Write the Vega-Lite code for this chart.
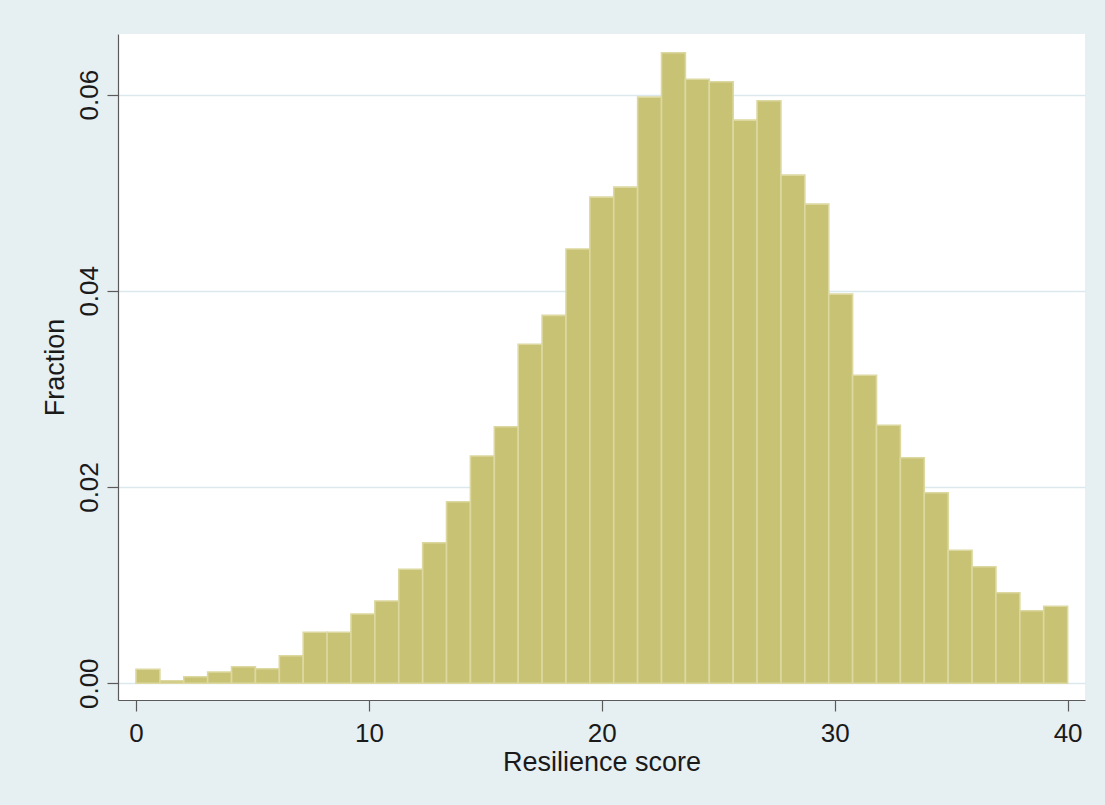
{
  "$schema": "https://vega.github.io/schema/vega-lite/v6.json",
  "width": 967,
  "height": 666,
  "autosize": {"type": "none"},
  "padding": {"left": 118, "top": 34, "right": 20, "bottom": 105},
  "background": "#e6eff2",
  "config": {
    "view": {"stroke": null, "fill": "#ffffff"},
    "font": "Liberation Sans"
  },
  "data": {
    "values": [
      {"bin_start": 0.000, "bin_end": 1.026, "fraction": 0.00142},
      {"bin_start": 1.026, "bin_end": 2.051, "fraction": 0.00025},
      {"bin_start": 2.051, "bin_end": 3.077, "fraction": 0.00066},
      {"bin_start": 3.077, "bin_end": 4.103, "fraction": 0.00114},
      {"bin_start": 4.103, "bin_end": 5.128, "fraction": 0.00168},
      {"bin_start": 5.128, "bin_end": 6.154, "fraction": 0.00148},
      {"bin_start": 6.154, "bin_end": 7.179, "fraction": 0.0028},
      {"bin_start": 7.179, "bin_end": 8.205, "fraction": 0.0052},
      {"bin_start": 8.205, "bin_end": 9.231, "fraction": 0.0052},
      {"bin_start": 9.231, "bin_end": 10.256, "fraction": 0.00705},
      {"bin_start": 10.256, "bin_end": 11.282, "fraction": 0.00838},
      {"bin_start": 11.282, "bin_end": 12.308, "fraction": 0.01162},
      {"bin_start": 12.308, "bin_end": 13.333, "fraction": 0.01432},
      {"bin_start": 13.333, "bin_end": 14.359, "fraction": 0.0185},
      {"bin_start": 14.359, "bin_end": 15.385, "fraction": 0.02316},
      {"bin_start": 15.385, "bin_end": 16.410, "fraction": 0.02615},
      {"bin_start": 16.410, "bin_end": 17.436, "fraction": 0.03456},
      {"bin_start": 17.436, "bin_end": 18.462, "fraction": 0.0375},
      {"bin_start": 18.462, "bin_end": 19.487, "fraction": 0.04426},
      {"bin_start": 19.487, "bin_end": 20.513, "fraction": 0.04955},
      {"bin_start": 20.513, "bin_end": 21.538, "fraction": 0.05057},
      {"bin_start": 21.538, "bin_end": 22.564, "fraction": 0.05975},
      {"bin_start": 22.564, "bin_end": 23.590, "fraction": 0.06427},
      {"bin_start": 23.590, "bin_end": 24.615, "fraction": 0.06157},
      {"bin_start": 24.615, "bin_end": 25.641, "fraction": 0.06132},
      {"bin_start": 25.641, "bin_end": 26.667, "fraction": 0.0574},
      {"bin_start": 26.667, "bin_end": 27.692, "fraction": 0.05938},
      {"bin_start": 27.692, "bin_end": 28.718, "fraction": 0.05179},
      {"bin_start": 28.718, "bin_end": 29.744, "fraction": 0.04884},
      {"bin_start": 29.744, "bin_end": 30.769, "fraction": 0.03966},
      {"bin_start": 30.769, "bin_end": 31.795, "fraction": 0.0314},
      {"bin_start": 31.795, "bin_end": 32.821, "fraction": 0.0263},
      {"bin_start": 32.821, "bin_end": 33.846, "fraction": 0.02299},
      {"bin_start": 33.846, "bin_end": 34.872, "fraction": 0.01942},
      {"bin_start": 34.872, "bin_end": 35.897, "fraction": 0.01356},
      {"bin_start": 35.897, "bin_end": 36.923, "fraction": 0.01188},
      {"bin_start": 36.923, "bin_end": 37.949, "fraction": 0.00923},
      {"bin_start": 37.949, "bin_end": 38.974, "fraction": 0.00739},
      {"bin_start": 38.974, "bin_end": 40.000, "fraction": 0.00785}
    ]
  },
  "mark": {"type": "bar", "fill": "#c8c274", "stroke": "#dcd89f", "strokeWidth": 1.6},
  "encoding": {
    "x": {
      "field": "bin_start",
      "type": "quantitative",
      "scale": {"domain": [-0.773, 40.747], "nice": false, "zero": false},
      "axis": {
        "title": "Resilience score",
        "values": [0, 10, 20, 30, 40],
        "format": "d",
        "grid": false,
        "domainColor": "#5a5a5a",
        "domainWidth": 1.2,
        "tickColor": "#5a5a5a",
        "tickWidth": 1.2,
        "tickSize": 11,
        "labelFontSize": 26,
        "labelColor": "#1a1a1a",
        "labelPadding": 9,
        "labelFlush": false,
        "titleFontSize": 27,
        "titleFontWeight": "normal",
        "titleColor": "#1a1a1a",
        "titlePadding": 3
      }
    },
    "x2": {"field": "bin_end"},
    "y": {
      "field": "fraction",
      "type": "quantitative",
      "scale": {"domain": [-0.00171, 0.06618], "nice": false, "zero": false},
      "axis": {
        "title": "Fraction",
        "values": [0, 0.02, 0.04, 0.06],
        "format": ".2f",
        "grid": true,
        "gridColor": "#dbe9ee",
        "gridWidth": 1.5,
        "domainColor": "#5a5a5a",
        "domainWidth": 1.2,
        "tickColor": "#5a5a5a",
        "tickWidth": 1.2,
        "tickSize": 11,
        "labelAngle": -90,
        "labelAlign": "center",
        "labelBaseline": "alphabetic",
        "labelFontSize": 26,
        "labelColor": "#1a1a1a",
        "labelPadding": 10,
        "labelFlush": false,
        "titleFontSize": 27,
        "titleFontWeight": "normal",
        "titleColor": "#1a1a1a",
        "titleBaseline": "alphabetic",
        "titlePadding": 13
      }
    },
    "y2": {"datum": 0}
  }
}
